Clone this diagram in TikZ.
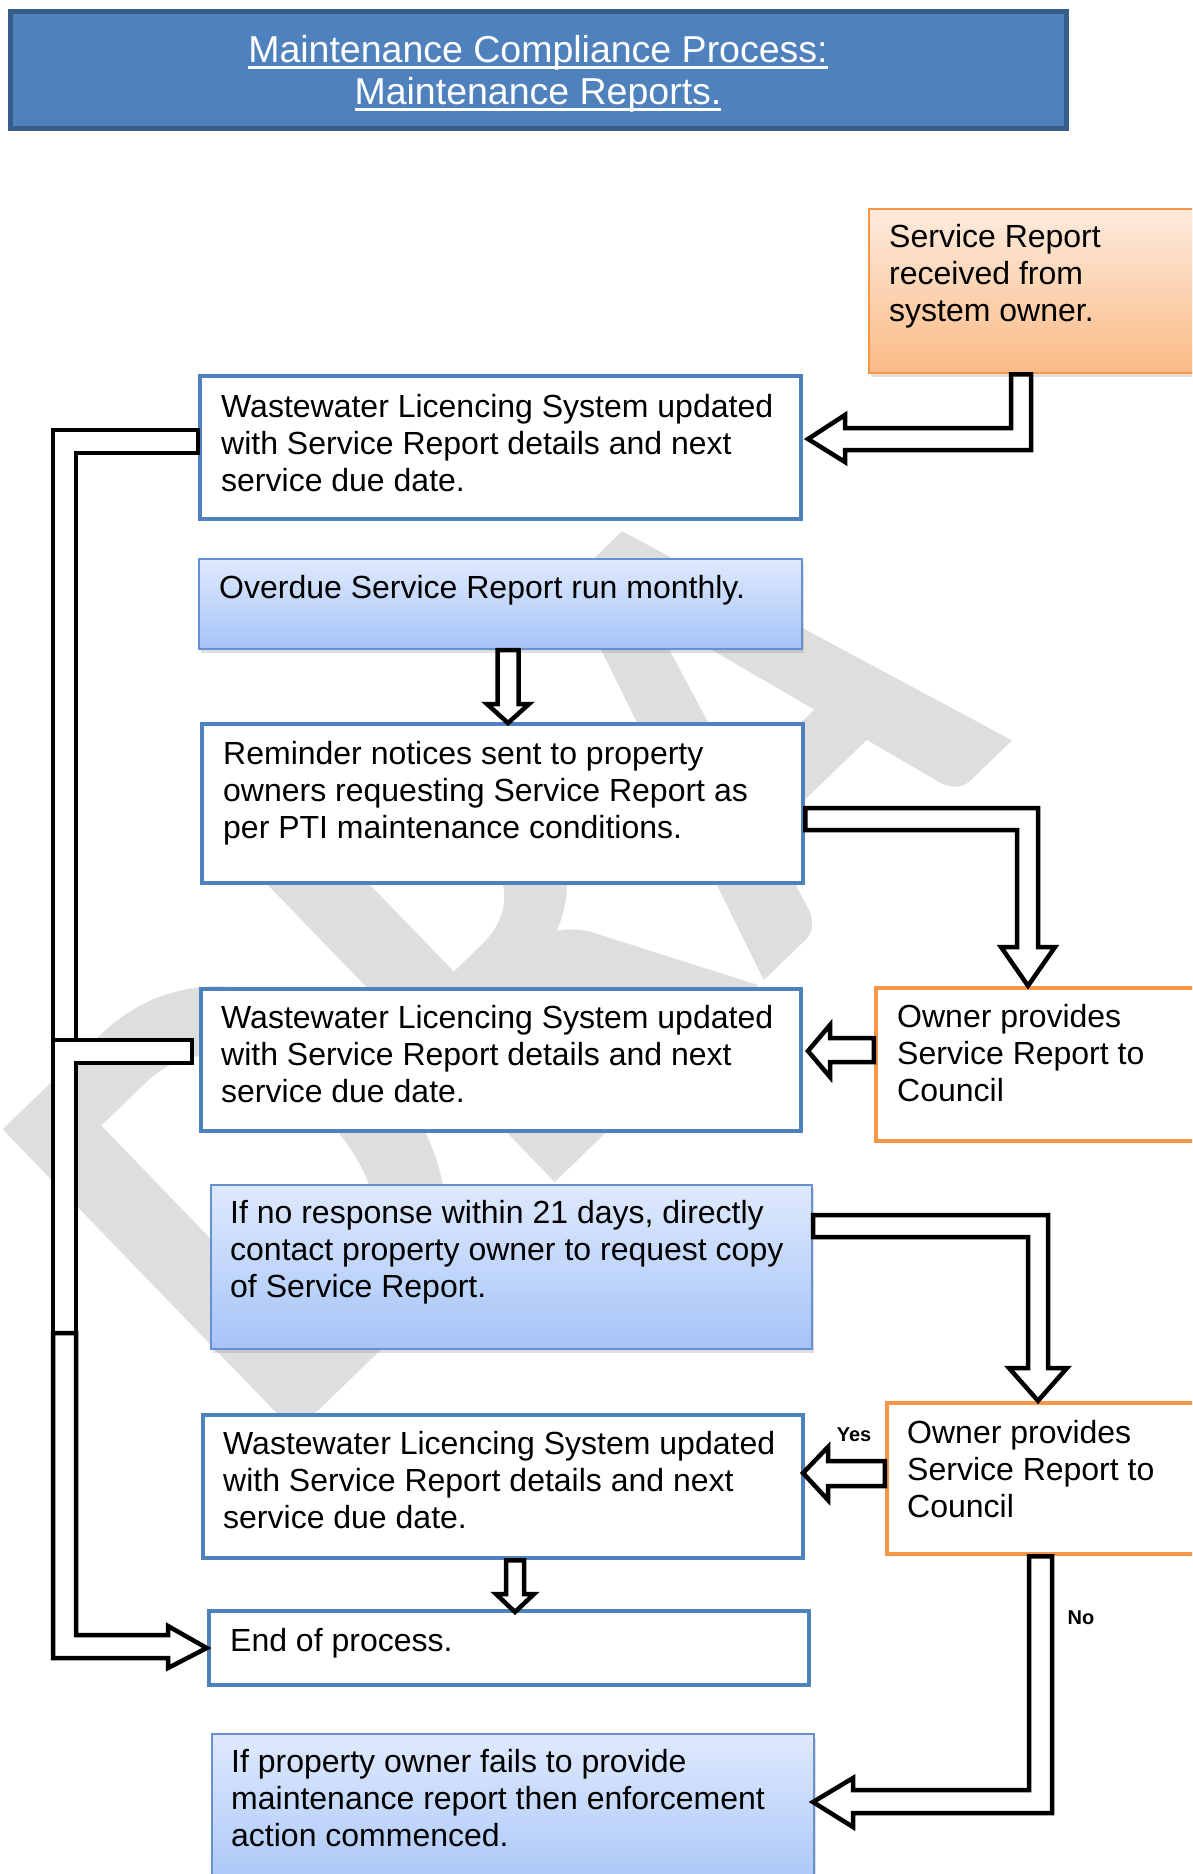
\documentclass[tikz,border=0pt]{standalone}
\usepackage{fontspec}
\setmainfont{Liberation Sans}
\newfontfamily\wmfont{Carlito}
\usetikzlibrary{calc,shadows}
\definecolor{titlefill}{HTML}{4F81BD}
\definecolor{titleborder}{HTML}{385D8A}
\definecolor{boxblue}{HTML}{4F81BD}
\definecolor{gradtop}{HTML}{DFE9FD}
\definecolor{gradbot}{HTML}{A5C4F7}
\definecolor{gradborder}{HTML}{6890CF}
\definecolor{orangeb}{HTML}{F79646}
\definecolor{ortop}{HTML}{FDEBDD}
\definecolor{orbot}{HTML}{FABB86}
\definecolor{wmgray}{HTML}{DEDEDE}
\newcommand\ttlul[1]{\setbox0\hbox{#1}\rlap{\rule[-6.5pt]{\wd0}{3pt}}\box0}
\begin{document}
\begin{tikzpicture}[x=1pt,y=-1pt,
  bodytext/.style={anchor=north west, inner sep=0pt, align=left, text=black, font=\fontsize{32}{37}\selectfont},
  bluebox/.style={draw=boxblue, line width=4.5pt, fill=white, inner sep=0pt},
  gradbox/.style={draw=gradborder, line width=2pt, top color=gradtop, bottom color=gradbot, inner sep=0pt,
     drop shadow={shadow xshift=1.5pt, shadow yshift=-4pt, opacity=0.25}},
  orangebox/.style={draw=orangeb, line width=4.5pt, fill=white, inner sep=0pt},
  orgradbox/.style={draw=orangeb, line width=2.5pt, top color=ortop, bottom color=orbot, inner sep=0pt,
     drop shadow={shadow xshift=1.5pt, shadow yshift=-4pt, opacity=0.25}},
  titlebox/.style={draw=titleborder, line width=5pt, fill=titlefill, inner sep=0pt},
  barrow/.style={draw=black, line width=4.5pt, fill=white, line join=miter, miter limit=10},
  yesno/.style={font=\fontsize{20}{24}\selectfont\bfseries, inner sep=0pt, text=black},
  wm/.style={text=wmgray, anchor=base west, rotate=44, xscale=0.88, inner sep=0pt, font={\wmfont\bfseries\fontsize{650}{700}\selectfont}}
]
\useasboundingbox (0,0) rectangle (1192,1874);
\fill[white] (0,0) rectangle (1192,1874);
\clip (0,0) rectangle (1192,1874);

% watermark
\node[wm] (wmark) at (272,1456) {DRA};

% title
\node[titlebox, minimum width=1056pt, minimum height=117pt] (title) at (538,69.5) {};
\node[anchor=north, inner sep=0pt, align=center, text=white, font=\fontsize{37.5}{42}\selectfont] (titletext) at (538,32.6)
  {\strut\ttlul{Maintenance Compliance Process:}\\\ttlul{Maintenance Reports.}};

% boxes
\node[orgradbox, minimum width=361pt, minimum height=164pt] (sr) at (1049.5,291) {};
\node[bluebox, minimum width=601pt, minimum height=143pt] (wls1) at (500.5,447.5) {};
\node[gradbox, minimum width=603pt, minimum height=90pt] (od) at (500.5,604) {};
\node[bluebox, minimum width=601pt, minimum height=159pt] (rem) at (502.5,803.5) {};
\node[bluebox, minimum width=600pt, minimum height=142pt] (wls2) at (501,1060) {};
\node[orangebox, minimum width=354pt, minimum height=153pt] (own1) at (1053,1064.5) {};
\node[gradbox, minimum width=601pt, minimum height=164pt] (nr) at (511.5,1267) {};
\node[bluebox, minimum width=600pt, minimum height=143pt] (wls3) at (503,1486.5) {};
\node[orangebox, minimum width=343pt, minimum height=151pt] (own2) at (1058.5,1478.5) {};
\node[bluebox, minimum width=600pt, minimum height=74pt] (endp) at (509,1648) {};
\node[gradbox, minimum width=602pt, minimum height=166pt] (fail) at (513,1817) {};

% texts
\node[bodytext] (srt) at (889,221) {\strut Service Report\\received from\\system owner.};
\node[bodytext] (wls1t) at (221,391) {\strut Wastewater Licencing System updated\\with Service Report details and next\\service due date.};
\node[bodytext] (odt) at (219,572) {\strut Overdue Service Report run monthly.};
\node[bodytext] (remt) at (223,738) {\strut Reminder notices sent to property\\owners requesting Service Report as\\per PTI maintenance conditions.};
\node[bodytext] (wls2t) at (221,1002) {\strut Wastewater Licencing System updated\\with Service Report details and next\\service due date.};
\node[bodytext] (own1t) at (897,1001) {\strut Owner provides\\Service Report to\\Council};
\node[bodytext] (nrt) at (230,1197) {\strut If no response within 21 days, directly\\contact property owner to request copy\\of Service Report.};
\node[bodytext] (wls3t) at (223,1428) {\strut Wastewater Licencing System updated\\with Service Report details and next\\service due date.};
\node[bodytext] (own2t) at (907,1417) {\strut Owner provides\\Service Report to\\Council};
\node[bodytext] (endt) at (230,1625) {\strut End of process.};
\node[bodytext] (failt) at (231,1746) {\strut If property owner fails to provide\\maintenance report then enforcement\\action commenced.};

% block arrows
\draw[barrow] (sr.south -| 1011,0) |- (845,428) -- (845,415) -- (808,439) -- (845,462) -- (845,450) -| (sr.south -| 1031,0) -- cycle;
\draw[barrow] (od.south -| 497.5,0) -- (497.5,704) -- (487,704) -- (508,723) -- (529,704) -- (518.5,704) -- (od.south -| 518.5,0) -- cycle;
\draw[barrow] (rem.east |- 0,808) -| (1038,947) -- (1055,947) -- (own1.north -| 1028,0) -- (1001,947) -- (1017,947) |- (rem.east |- 0,830) -- cycle;
\draw[barrow] (own1.west |- 0,1038) -- (830,1038) -- (830,1025) -- (808,1051) -- (830,1077) -- (830,1062) -- (own1.west |- 0,1062) -- cycle;
\draw[barrow] (nr.east |- 0,1215) -| (1048,1368) -- (1067,1368) -- (own2.north -| 1038,0) -- (1009,1368) -- (1028,1368) |- (nr.east |- 0,1237) -- cycle;
\draw[barrow] (own2.west |- 0,1461) -- (828,1461) -- (828,1447) -- (803,1473) -- (828,1500) -- (828,1486) -- (own2.west |- 0,1486) -- cycle;
\draw[barrow] (wls3.south -| 506,0) -- (506,1594) -- (496,1594) -- (515,1612) -- (534,1594) -- (524,1594) -- (wls3.south -| 524,0) -- cycle;
\draw[barrow] (own2.south -| 1029,0) |- (853,1790) -- (853,1778) -- (813,1802) -- (853,1827) -- (853,1813) -| (own2.south -| 1052,0) -- cycle;

% left return bus
\draw[barrow] (wls1.west |- 0,430) -| (53,1040) -- (76,1040) |- (wls1.west |- 0,453) -- cycle;
\coordinate (l2s) at ($(wls2.west |- 0,1040)+(-7,0)$);
\coordinate (l2e) at ($(wls2.west |- 0,1063)+(-7,0)$);
\draw[barrow] (l2s) -| (53,1333) -- (76,1333) |- (l2e) -- cycle;
\draw[barrow] (53,1333) |- (168,1658) -- (168,1668) -- (endp.west) -- (168,1626) -- (168,1635) -| (76,1333) -- cycle;

% labels
\node[yesno] (yes) at (854,1435) {Yes};
\node[yesno] (no) at (1081,1618) {No};
\end{tikzpicture}
\end{document}
